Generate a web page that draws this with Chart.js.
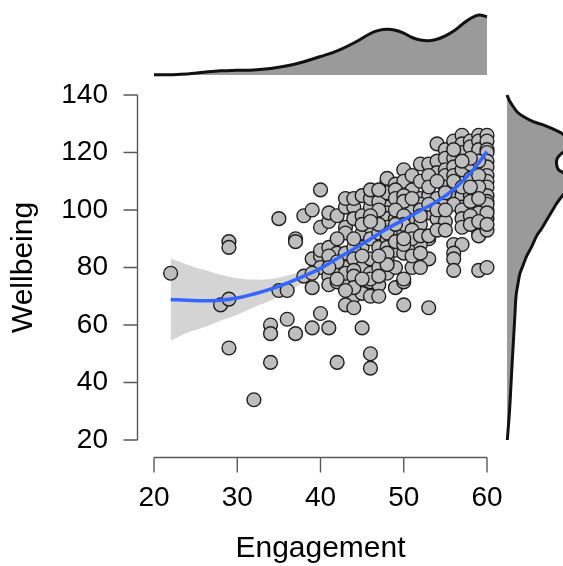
<!DOCTYPE html>
<html><head><meta charset="utf-8">
<script src="https://cdn.jsdelivr.net/npm/chart.js@4.4.1/dist/chart.umd.min.js"></script>
<style>
html,body{margin:0;padding:0;background:#fff;overflow:hidden;width:563px;height:566px;}
#wrap{position:relative;width:563px;height:566px;overflow:hidden;}
canvas{position:absolute;}
#main{left:0;top:0;}
#top{left:0;top:0;}
#right{left:490px;top:0;}
</style></head><body>
<div id="wrap">
<canvas id="main" width="563" height="566"></canvas>
<canvas id="top" width="563" height="85"></canvas>
<canvas id="right" width="110" height="566"></canvas>
</div>
<script>
// ---- scatter data (Engagement, Wellbeing) ----
const engagement = [
22,29,29,28,29,29,32,34,34,34,35,36,36,37,35,37,37,38,39,40,38,39,40,39,41,39,40,40,41,40,39,41,41,40,41,41,42,
42,46,47,49,50,44,45,46,47,43,44,50,53,45,46,46,
42,43,43,43,44,44,45,45,45,46,46,46,47,47,47,48,48,48,48,48,49,49,49,50,50,50,51,51,51,42,42,42,43,43,43,44,44,45,46,46,46,47,48,48,49,50,51,
43,44,45,46,47,48,48,48,49,49,50,50,51,51,52,52,51,
54,55,56,57,57,57,58,58,59,59,59,60,60,60,60,60,60,60,60,60,60,60,53,54,54,55,55,55,56,56,56,57,58,58,59,59,59,53,54,55,55,56,56,57,58,57,
52,53,54,55,52,53,52,53,52,56,57,57,57,56,57,56,56,56,59,59,60,60,60,59,60,
48,49,49,50,50,51,47,46,49,50,52,53,53,54,55,56,57,58,58,59,59,60,60,48,48,48,48,52,53,52,50,51,51,52,53,41,42,43,42,41,44,44,44,43,45,47,47,45,44,45,47,46,49,49,50,50,51,52,54,54,55,55,58,58,59,60,58,57,56,46,47
];
const wellbeing = [
78,89,87,67,69,52,34,60,57,47,72,72,62,57,97,90,89,98,100,107,77,73,64,59,59,83,84,86,87,80,78,77,74,94,96,99,47,
75,75,74,73,75,70,71,70,70,67,66,67,66,59,50,45,
98,101,94,92,101,97,98,92,87,101,94,90,97,92,87,101,99,97,90,87,97,92,86,101,92,85,97,92,87,90,85,80,85,80,76,87,83,80,83,78,76,80,83,78,80,76,80,
104,104,105,104,103,108,110,111,109,105,114,110,112,107,116,104,101,
123,121,124,126,123,120,124,122,126,124,121,126,124,121,120,117,115,112,110,108,105,103,116,117,113,118,114,112,118,115,112,114,116,111,117,112,108,105,104,108,103,108,104,105,105,101,
102,99,97,96,95,90,88,83,80,102,100,97,94,88,88,85,83,79,92,91,93,100,102,79,80,
106,107,104,105,103,104,100,98,100,98,110,112,108,110,106,110,108,103,108,104,99,97,99,94,92,85,81,100,102,98,95,93,90,91,91,84,82,78,76,80,79,77,73,72,76,77,84,84,90,95,95,96,95,89,88,90,84,85,93,100,100,93,98,95,96,95,118,117,121,107,107
];
// ---- loess smooth with confidence band ----
const smoothX    = [22,24,26,28,30,32,34,36,38,40,42,44,46,48,50,52,54,56,58,60];
const smoothY    = [68.9,68.6,68.4,68.6,69.4,70.8,72.5,74.6,77.0,79.7,83.1,86.4,89.9,93.5,96.6,99.8,103.0,107.2,112.8,120.3];
const bandHigh   = [83.2,81.0,79.2,77.5,76.3,75.8,76.0,77.2,79.0,81.5,84.8,88.0,91.5,95.1,98.3,101.6,105.0,109.5,115.6,123.8];
const bandLow    = [54.5,57.3,59.2,61.5,63.6,66.2,68.5,71.4,74.8,77.9,81.4,84.8,88.3,91.9,94.9,98.0,101.0,104.9,110.0,116.8];
// ---- marginal densities ----
const engGrid = [20,22,24,26,28,30,32,34,36,38,40,42,44,46,47,48,49,50,51,52,53,54,55,56,57,58,59,60];
const engDens = [0.0003,0.0003,0.0009,0.0027,0.0042,0.0047,0.0050,0.0064,0.0092,0.0133,0.0185,0.0241,0.0320,0.0415,0.0446,0.0457,0.0448,0.0418,0.0375,0.0350,0.0343,0.0357,0.0392,0.0440,0.0505,0.0565,0.0600,0.0583];
const wbGrid = [20,24,29,36,44,50,58,64,70,74,78,80,84,87,91,93.5,96.5,100,102.3,105.2,107,109,111,113,114,116,118,119.7,121,123,125,126.7,128.1,129.6,130.7,132.5,134,136,138,140];
const wbDens = [0.0003,0.0012,0.0023,0.0035,0.0047,0.0057,0.0070,0.0080,0.0090,0.0108,0.0130,0.0152,0.0197,0.0243,0.0297,0.0345,0.0397,0.0457,0.0497,0.0560,0.0610,0.0630,0.0610,0.0560,0.0515,0.0495,0.0503,0.0547,0.0600,0.0630,0.0600,0.0547,0.0463,0.0363,0.0263,0.0163,0.0105,0.0062,0.0025,0.0000];
// ---- axes ----
const xMin = 20, xMax = 60, xStep = 10;
const yMin = 20, yMax = 140, yStep = 20;
const xTitle = 'Engagement', yTitle = 'Wellbeing';

const FONT = "'Liberation Sans', Arial, Helvetica, sans-serif";

const rAxes = {
  id: 'rAxes',
  afterDraw(chart) {
    const {ctx, scales: {x, y}, chartArea} = chart;
    const ax = Math.round(chartArea.left - 17) + 0.5;
    const ay = Math.round(chartArea.bottom + 17) + 0.5;
    ctx.save();
    ctx.strokeStyle = '#595959';
    ctx.lineWidth = 1.4;
    ctx.beginPath();
    ctx.moveTo(ax, y.getPixelForValue(yMax));
    ctx.lineTo(ax, y.getPixelForValue(yMin));
    y.ticks.forEach(t => { const p = y.getPixelForValue(t.value); ctx.moveTo(ax - 14, p); ctx.lineTo(ax, p); });
    ctx.moveTo(x.getPixelForValue(xMin), ay);
    ctx.lineTo(x.getPixelForValue(xMax), ay);
    x.ticks.forEach(t => { const p = x.getPixelForValue(t.value); ctx.moveTo(p, ay); ctx.lineTo(p, ay + 15); });
    ctx.stroke();
    ctx.restore();
  }
};

const pts = engagement.map((e, i) => ({x: e, y: wellbeing[i]}));
new Chart(document.getElementById('main'), {
  type: 'scatter',
  data: {
    datasets: [
      {type: 'line', data: smoothX.map((v, i) => ({x: v, y: bandHigh[i]})), borderWidth: 0, pointRadius: 0,
       fill: '+1', backgroundColor: 'rgba(153,153,153,0.42)', tension: 0.4, order: 3},
      {type: 'line', data: smoothX.map((v, i) => ({x: v, y: bandLow[i]})), borderWidth: 0, pointRadius: 0,
       fill: false, tension: 0.4, order: 3},
      {type: 'scatter', data: pts, pointRadius: 6.9, backgroundColor: '#bebebe', borderColor: '#1e1e1e',
       borderWidth: 1.4, order: 2, clip: false},
      {type: 'line', data: smoothX.map((v, i) => ({x: v, y: smoothY[i]})), borderColor: '#3366FF', borderWidth: 3.5,
       pointRadius: 0, tension: 0.4, fill: false, order: 1, clip: false}
    ]
  },
  options: {
    responsive: false, animation: false, devicePixelRatio: 1,
    layout: {padding: {top: 95, right: 76, left: 0, bottom: 0}},
    plugins: {legend: {display: false}, tooltip: {enabled: false}},
    scales: {
      x: {
        type: 'linear', min: xMin, max: xMax,
        afterFit: s => { s.height = 126; },
        grid: {display: false, drawTicks: false}, border: {display: false},
        ticks: {stepSize: xStep, padding: 41, color: '#000', font: {family: FONT, size: 28}},
        title: {display: true, text: xTitle, color: '#000', font: {family: FONT, size: 30, lineHeight: 1.2}, padding: {top: 0, bottom: -1}}
      },
      y: {
        type: 'linear', min: yMin, max: yMax,
        afterFit: s => { s.width = 154; },
        grid: {display: false, drawTicks: false}, border: {display: false},
        ticks: {stepSize: yStep, padding: 46, color: '#000', font: {family: FONT, size: 28}},
        title: {display: true, text: yTitle, color: '#000', font: {family: FONT, size: 30, lineHeight: 1.2}, padding: {top: 6, bottom: 0}}
      }
    }
  },
  plugins: [rAxes]
});

new Chart(document.getElementById('top'), {
  type: 'line',
  data: {datasets: [{data: engGrid.map((v, i) => ({x: v, y: engDens[i]})), borderColor: '#111', borderWidth: 3,
    fill: 'origin', backgroundColor: '#9a9a9a', pointRadius: 0, tension: 0.4, clip: false}]},
  options: {
    responsive: false, animation: false, devicePixelRatio: 1,
    layout: {padding: {left: 154, right: 76, top: 5, bottom: 7}},
    plugins: {legend: {display: false}, tooltip: {enabled: false}},
    scales: {
      x: {type: 'linear', min: xMin, max: xMax, display: false},
      y: {type: 'linear', min: -0.003, max: 0.070, display: false}
    }
  }
});

new Chart(document.getElementById('right'), {
  type: 'line',
  data: {datasets: [{data: wbGrid.map((v, i) => ({x: wbDens[i], y: v})), borderColor: '#111', borderWidth: 3,
    fill: 'origin', backgroundColor: '#9a9a9a', pointRadius: 0, tension: 0.4, clip: false}]},
  options: {
    indexAxis: 'y',
    responsive: false, animation: false, devicePixelRatio: 1,
    layout: {padding: {left: 14, right: 0, top: 95, bottom: 126}},
    plugins: {legend: {display: false}, tooltip: {enabled: false}},
    scales: {
      y: {type: 'linear', min: yMin, max: yMax, display: false},
      x: {type: 'linear', min: -0.003, max: 0.093, display: false}
    }
  }
});
</script>
</body></html>
